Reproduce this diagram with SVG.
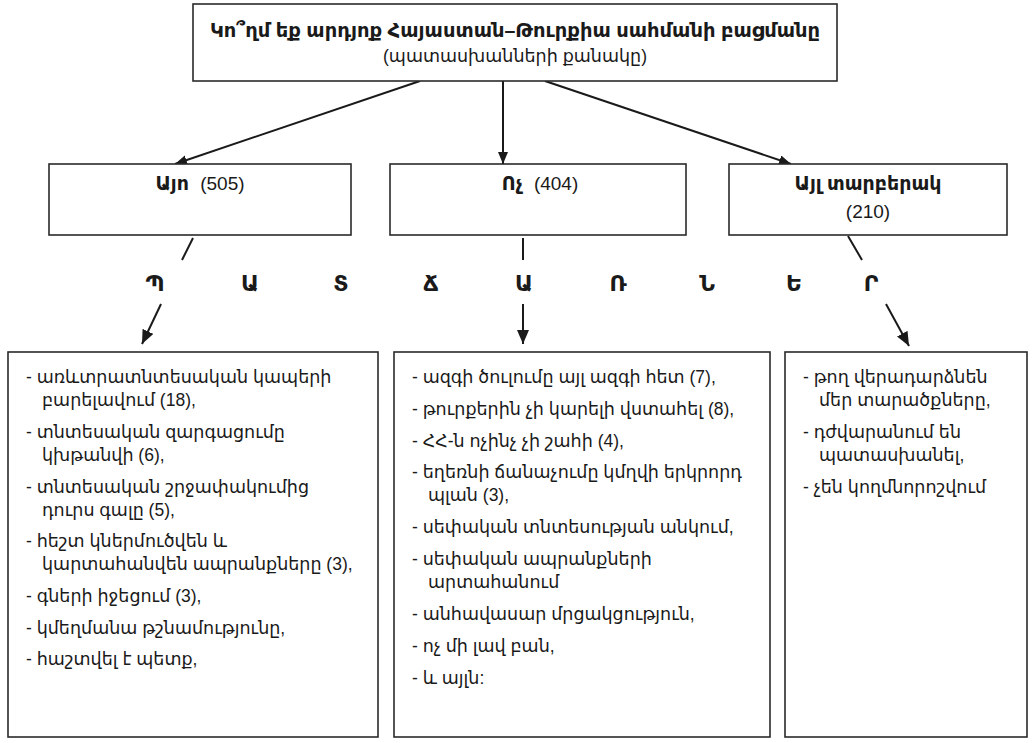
<svg xmlns="http://www.w3.org/2000/svg" width="1033" height="743" viewBox="0 0 1033 743">
<style>
.box{fill:#fff;stroke:#2a2a2a;stroke-width:1.6}
.t{font-family:"Liberation Sans","DejaVu Sans",sans-serif;fill:#1a1a1a}
.b{font-weight:bold}
.ti{font-size:19.5px}
.h{font-size:17.5px}
.lb{font-size:19px}
.it{font-size:17.5px}
.let{font-family:"DejaVu Sans",sans-serif;font-weight:bold;font-size:22px;fill:#1a1a1a;text-anchor:middle}
.c{stroke:#1a1a1a;stroke-width:2;fill:none}
</style>
<defs>
<marker id="ah" viewBox="0 0 12 10" refX="12" refY="5" markerWidth="12" markerHeight="10" markerUnits="userSpaceOnUse" orient="auto"><path d="M0,0 L12,5 L0,10 z" fill="#1a1a1a"/></marker>
<marker id="ah2" viewBox="0 0 14 12" refX="14" refY="6" markerWidth="14" markerHeight="12" markerUnits="userSpaceOnUse" orient="auto"><path d="M0,0 L14,6 L0,12 z" fill="#1a1a1a"/></marker>
</defs>
<g id="connectors">
<line class="c" x1="420" y1="81" x2="175" y2="164" marker-end="url(#ah)"/>
<line class="c" x1="503" y1="81" x2="503" y2="164" marker-end="url(#ah)"/>
<line class="c" x1="545" y1="81" x2="791" y2="164" marker-end="url(#ah)"/>
<line class="c" x1="193" y1="238" x2="182" y2="260"/>
<line class="c" x1="523" y1="238" x2="523" y2="260"/>
<line class="c" x1="848" y1="236" x2="862" y2="260"/>
<line class="c" x1="161" y1="304" x2="142" y2="344" marker-end="url(#ah2)"/>
<line class="c" x1="523" y1="304" x2="523" y2="344" marker-end="url(#ah2)"/>
<line class="c" x1="886" y1="304" x2="909" y2="346" marker-end="url(#ah2)"/>
</g>
<g id="question">
<rect class="box" x="193" y="4" width="644" height="77"/>
<text class="t b ti" x="515" y="37" text-anchor="middle">Կո՞ղմ եք արդյոք Հայաստան–Թուրքիա սահմանի բացմանը</text>
<text class="t h" x="515" y="62" text-anchor="middle">(պատասխանների քանակը)</text>
</g>
<g id="yes">
<rect class="box" x="49" y="164" width="302" height="71"/>
<text class="t lb" x="200" y="190" text-anchor="middle"><tspan class="b">Այո</tspan> <tspan dx="6">(505)</tspan></text>
</g>
<g id="no">
<rect class="box" x="390" y="164" width="296" height="71"/>
<text class="t lb" x="540" y="190" text-anchor="middle"><tspan class="b">Ոչ</tspan> <tspan dx="6">(404)</tspan></text>
</g>
<g id="other">
<rect class="box" x="729" y="164" width="278" height="71"/>
<text class="t b lb" x="868" y="190" text-anchor="middle">Այլ տարբերակ</text>
<text class="t lb" x="868" y="218" text-anchor="middle">(210)</text>
</g>
<g id="reasons">
<text class="let" x="155" y="291">Պ</text>
<text class="let" x="250" y="291">Ա</text>
<text class="let" x="341" y="291">Տ</text>
<text class="let" x="431" y="291">Ճ</text>
<text class="let" x="524" y="291">Ա</text>
<text class="let" x="618" y="291">Ռ</text>
<text class="let" x="707" y="291">Ն</text>
<text class="let" x="794" y="291">Ե</text>
<text class="let" x="871" y="291">Ր</text>
</g>
<g id="yes-reasons">
<rect class="box" x="8" y="352" width="370" height="385"/>
<text class="t it" x="26" y="383">- առևտրատնտեսական կապերի</text>
<text class="t it" x="42" y="406">բարելավում (18),</text>
<text class="t it" x="26" y="438">- տնտեսական զարգացումը</text>
<text class="t it" x="42" y="461">կխթանվի (6),</text>
<text class="t it" x="26" y="493">- տնտեսական շրջափակումից</text>
<text class="t it" x="42" y="516">դուրս գալը (5),</text>
<text class="t it" x="26" y="547">- հեշտ կներմուծվեն և</text>
<text class="t it" x="42" y="570">կարտահանվեն ապրանքները (3),</text>
<text class="t it" x="26" y="602">- գների իջեցում (3),</text>
<text class="t it" x="26" y="634">- կմեղմանա թշնամությունը,</text>
<text class="t it" x="26" y="665">- հաշտվել է պետք,</text>
</g>
<g id="no-reasons">
<rect class="box" x="394" y="352" width="376" height="385"/>
<text class="t it" x="412" y="383">- ազգի ծուլումը այլ ազգի հետ (7),</text>
<text class="t it" x="412" y="415">- թուրքերին չի կարելի վստահել (8),</text>
<text class="t it" x="412" y="447">- ՀՀ-ն ոչինչ չի շահի (4),</text>
<text class="t it" x="412" y="478">- եղեռնի ճանաչումը կմղվի երկրորդ</text>
<text class="t it" x="428" y="501">պլան (3),</text>
<text class="t it" x="412" y="533">- սեփական տնտեսության անկում,</text>
<text class="t it" x="412" y="565">- սեփական ապրանքների</text>
<text class="t it" x="428" y="588">արտահանում</text>
<text class="t it" x="412" y="620">- անհավասար մրցակցություն,</text>
<text class="t it" x="412" y="652">- ոչ մի լավ բան,</text>
<text class="t it" x="412" y="684">- և այլն:</text>
</g>
<g id="other-reasons">
<rect class="box" x="785" y="352" width="242" height="385"/>
<text class="t it" x="803" y="383">- թող վերադարձնեն</text>
<text class="t it" x="819" y="406">մեր տարածքները,</text>
<text class="t it" x="803" y="438">- դժվարանում են</text>
<text class="t it" x="819" y="461">պատասխանել,</text>
<text class="t it" x="803" y="493">- չեն կողմնորոշվում</text>
</g>
</svg>
